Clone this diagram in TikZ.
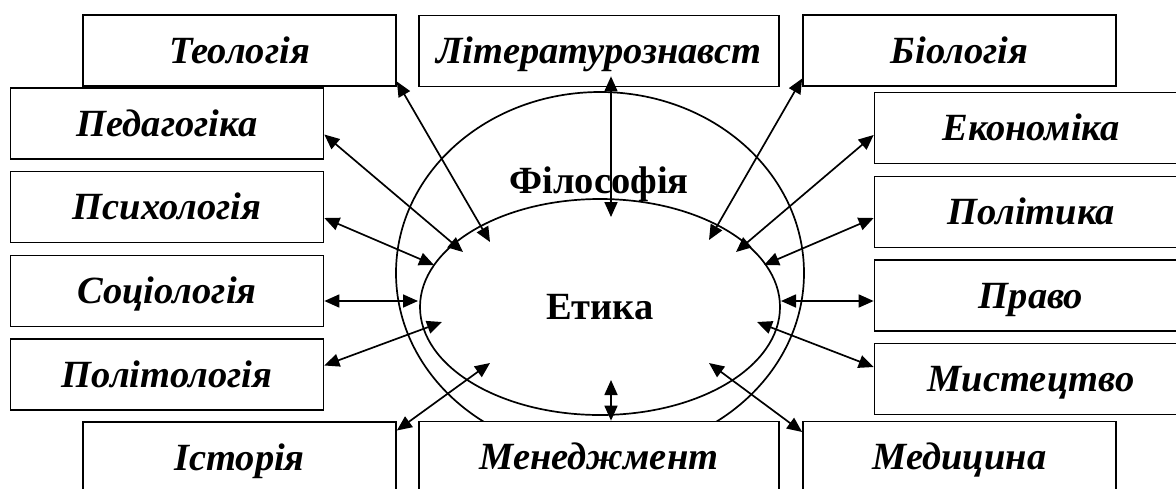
\documentclass[tikz,border=0pt]{standalone}
\usepackage{fontspec}
\setmainfont{Liberation Serif}
\usetikzlibrary{arrows.meta,shapes.geometric,calc}

\begin{document}
\begin{tikzpicture}[x=1pt,y=-1pt,
  etbox/.style={draw,fill=white,line width=1.7pt,minimum width=313pt,minimum height=71pt,
    inner sep=0pt,text height=25pt,text depth=0pt,font=\fontsize{38.5}{40}\selectfont\bfseries\itshape},
  etring/.style={draw,ellipse,line width=1.7pt,inner sep=0pt},
  etarr/.style={{Triangle[length=15pt,width=13pt]}-{Triangle[length=15pt,width=13pt]},line width=1.7pt}
]
  \clip (0,0) rectangle (1176,488);
  % Philosophy and ethics
  \node[etring,minimum width=408pt,minimum height=362pt] (filos) at (600,273) {};
  \node[etring,minimum width=360pt,minimum height=216pt,text height=25pt,text depth=0pt,
    font=\fontsize{38.5}{40}\selectfont\bfseries] (etika) at (600,307) {Етика};
  \node[inner sep=0pt,text height=25pt,text depth=0pt,font=\fontsize{38.5}{40}\selectfont\bfseries]
    (filoslab) at (599,181) {Філософія};
  % Top row
  \node[etbox] (teol) at (239.5,50.5) {Теологія};
  \node[etbox,minimum width=360pt] (lit) at (599,51) {Літературознавст};
  \node[etbox] (biol) at (959.5,50.5) {Біологія};
  % Left column
  \node[etbox] (pedag) at (167,123.5) {Педагогіка};
  \node[etbox] (psyh) at (167,207) {Психологія};
  \node[etbox] (sociol) at (167,291) {Соціологія};
  \node[etbox] (politol) at (167,374.5) {Політологія};
  % Right column
  \node[etbox] (ekon) at (1031,128) {Економіка};
  \node[etbox] (polit) at (1031,212) {Політика};
  \node[etbox] (pravo) at (1031,295.5) {Право};
  \node[etbox] (myst) at (1031,379) {Мистецтво};
  % Bottom row
  \node[etbox] (istor) at (239.5,457.5) {Історія};
  \node[etbox,minimum width=360pt] (menedzh) at (599,457) {Менеджмент};
  \node[etbox] (medyc) at (959.5,457) {Медицина};
  % Inner ends
  \coordinate (iTeol) at (490,242);
  \coordinate (iPedag) at (463,252);
  \coordinate (iPsyh) at (434,265);
  \coordinate (iSoc) at (418,301);
  \coordinate (iPolitol) at (442,322);
  \coordinate (iIstor) at (490,363);
  \coordinate (iBiol) at (709,240);
  \coordinate (iEkon) at (736,252);
  \coordinate (iPolit) at (764,265);
  \coordinate (iPravo) at (781,301);
  \coordinate (iMyst) at (757,322);
  \coordinate (iMedyc) at (709,363);
  \coordinate (iLit) at (611,217);
  \coordinate (iMen) at (611,380);
  % Arrows
  \draw[etarr] ([yshift=-31pt]teol.east) -- (iTeol);
  \draw[etarr] ([xshift=12pt,yshift=11pt]lit.south) -- (iLit);
  \draw[etarr] ([yshift=-28pt]biol.west) -- (iBiol);
  \draw[etarr] ([yshift=-11pt]pedag.east) -- (iPedag);
  \draw[etarr] ([yshift=-11pt]psyh.east) -- (iPsyh);
  \draw[etarr] ([yshift=-10pt]sociol.east) -- (iSoc);
  \draw[etarr] ([yshift=9pt]politol.east) -- (iPolitol);
  \draw[etarr] ([yshift=-7pt]ekon.west) -- (iEkon);
  \draw[etarr] ([yshift=-6pt]polit.west) -- (iPolit);
  \draw[etarr] ([yshift=-5.5pt]pravo.west) -- (iPravo);
  \draw[etarr] ([yshift=12pt]myst.west) -- (iMyst);
  \draw[etarr] ([yshift=27pt]istor.east) -- (iIstor);
  \draw[etarr] ([xshift=12pt]menedzh.north) -- (iMen);
  \draw[etarr] ([yshift=25pt]medyc.west) -- (iMedyc);
\end{tikzpicture}
\end{document}
